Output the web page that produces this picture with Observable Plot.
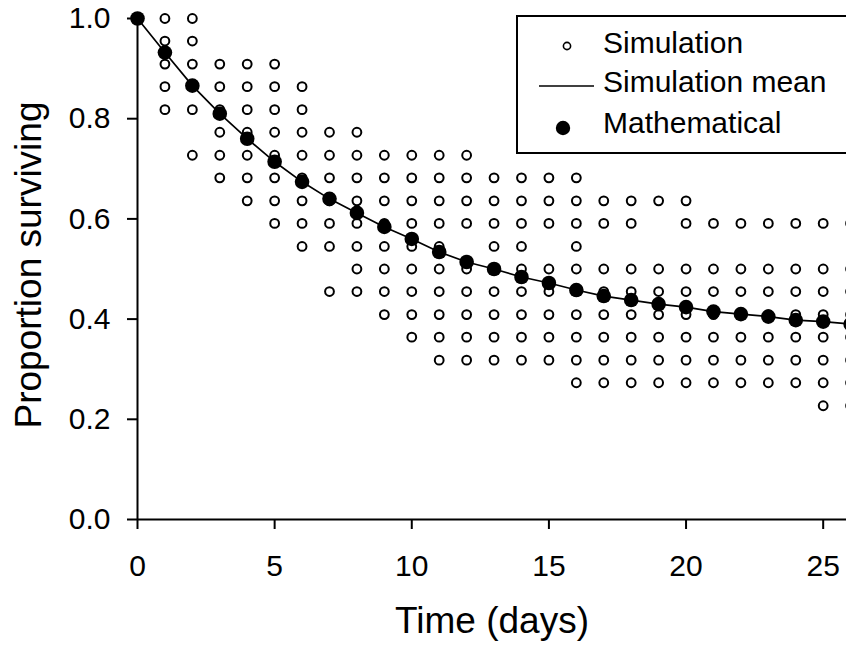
<!DOCTYPE html>
<html><head><meta charset="utf-8">
<script src="https://cdn.jsdelivr.net/npm/d3@7"></script>
<script src="https://cdn.jsdelivr.net/npm/@observablehq/plot@0.6"></script>
<style>
html,body{margin:0;padding:0;background:#fff;overflow:hidden}
#wrap{position:relative;width:846px;height:648px;overflow:hidden;font-family:"Liberation Sans",Arial,sans-serif}
</style></head><body><div id="wrap"></div>
<script>
const days = [0,1,2,3,4,5,6,7,8,9,10,11,12,13,14,15,16,17,18,19,20,21,22,23,24,25,26];
const mathematical = [1.000,0.932,0.866,0.810,0.760,0.714,0.674,0.640,0.612,0.584,0.560,0.534,0.514,0.500,0.484,0.472,0.458,0.446,0.438,0.430,0.424,0.415,0.410,0.405,0.398,0.395,0.390];
const simulationMean = [1.000,0.932,0.866,0.810,0.760,0.714,0.674,0.640,0.612,0.584,0.560,0.534,0.514,0.500,0.484,0.472,0.458,0.446,0.438,0.430,0.424,0.415,0.410,0.405,0.398,0.395,0.390];
const simulationRuns = [
  [1.000],
  [1.000,0.955,0.909,0.864,0.818],
  [1.000,0.955,0.909,0.864,0.818,0.727],
  [0.909,0.864,0.818,0.773,0.727,0.682],
  [0.909,0.864,0.818,0.773,0.727,0.682,0.636],
  [0.909,0.864,0.818,0.773,0.727,0.682,0.636,0.591],
  [0.864,0.818,0.773,0.727,0.682,0.636,0.591,0.545],
  [0.773,0.727,0.682,0.636,0.591,0.545,0.455],
  [0.773,0.727,0.682,0.636,0.591,0.545,0.500,0.455],
  [0.727,0.682,0.636,0.591,0.545,0.500,0.455,0.409],
  [0.727,0.682,0.636,0.591,0.545,0.500,0.455,0.409,0.364],
  [0.727,0.682,0.636,0.591,0.545,0.500,0.455,0.409,0.364,0.318],
  [0.727,0.682,0.636,0.591,0.500,0.455,0.409,0.364,0.318],
  [0.682,0.636,0.591,0.545,0.500,0.455,0.409,0.364,0.318],
  [0.682,0.636,0.591,0.545,0.500,0.455,0.409,0.364,0.318],
  [0.682,0.636,0.591,0.500,0.455,0.409,0.364,0.318],
  [0.682,0.636,0.591,0.545,0.500,0.455,0.409,0.364,0.318,0.273],
  [0.636,0.591,0.500,0.455,0.409,0.364,0.318,0.273],
  [0.636,0.591,0.500,0.455,0.409,0.364,0.318,0.273],
  [0.636,0.500,0.455,0.409,0.364,0.318,0.273],
  [0.636,0.591,0.500,0.455,0.409,0.364,0.318,0.273],
  [0.591,0.500,0.455,0.409,0.364,0.318,0.273],
  [0.591,0.500,0.455,0.409,0.364,0.318,0.273],
  [0.591,0.500,0.455,0.409,0.364,0.318,0.273],
  [0.591,0.500,0.455,0.409,0.364,0.318,0.273],
  [0.591,0.500,0.455,0.409,0.364,0.318,0.273,0.227],
  [0.591,0.500,0.455,0.409,0.364,0.318,0.273,0.227]
];
const xTicks = [0,5,10,15,20,25];
const yTicks = [0,0.2,0.4,0.6,0.8,1.0];
const xTitle = "Time (days)";
const yTitle = "Proportion surviving";
const legendLabels = ["Simulation","Simulation mean","Mathematical"];

const simPoints = days.flatMap((d,i) => simulationRuns[i].map(p => ({day:d, p})));
const mathPoints = days.map((d,i) => ({day:d, p:mathematical[i]}));
const meanPoints = days.map((d,i) => ({day:d, p:simulationMean[i]}));

const font = '"Liberation Sans", Arial, sans-serif';
const chart = Plot.plot({
  width: 846, height: 648,
  marginLeft: 137, marginRight: 0, marginTop: 18, marginBottom: 129,
  style: {fontFamily: font, background: "white", color: "black"},
  x: {domain: [0, 25.85]},
  y: {domain: [0, 1]},
  marks: [
    Plot.ruleX([0], {strokeWidth: 2}),
    Plot.ruleY([0], {strokeWidth: 2}),
    Plot.axisX(xTicks, {tickSize: 10, tickPadding: 25, fontSize: 30, strokeWidth: 2, label: null}),
    Plot.axisY(yTicks, {tickSize: 10, tickPadding: 17, fontSize: 30, strokeWidth: 2, label: null, tickFormat: d3.format(".1f")}),
    Plot.text([xTitle], {text: d => d, frameAnchor: "bottom", textAnchor: "middle", lineAnchor: "middle", dy: 102, fontSize: 37}),
    Plot.text([yTitle], {text: d => d, frameAnchor: "left", textAnchor: "middle", lineAnchor: "middle", rotate: -90, dx: -108, dy: -4, fontSize: 37}),
    Plot.dot(simPoints, {x: "day", y: "p", r: 4.4, stroke: "black", strokeWidth: 2, fill: "none"}),
    Plot.line(meanPoints, {x: "day", y: "p", stroke: "black", strokeWidth: 1.7}),
    Plot.dot(mathPoints, {x: "day", y: "p", r: 7.3, fill: "black", stroke: "none"})
  ]
});
document.getElementById("wrap").appendChild(chart);

// Legend overlay (inside the plot area, top right)
const leg = d3.select("#wrap").append("svg")
  .attr("width", 846).attr("height", 648)
  .style("position", "absolute").style("left", "0px").style("top", "0px")
  .style("font-family", font);
leg.append("rect").attr("x", 517).attr("y", 16).attr("width", 340).attr("height", 137)
  .attr("fill", "white").attr("stroke", "black").attr("stroke-width", 2);
leg.append("circle").attr("cx", 567).attr("cy", 46).attr("r", 3.6)
  .attr("fill", "none").attr("stroke", "black").attr("stroke-width", 1.6);
leg.append("line").attr("x1", 539).attr("x2", 594).attr("y1", 86).attr("y2", 86)
  .attr("stroke", "black").attr("stroke-width", 1.6);
leg.append("circle").attr("cx", 563).attr("cy", 128).attr("r", 7.2).attr("fill", "black");
const baselines = [53, 92, 133];
legendLabels.forEach((t, i) => {
  leg.append("text").attr("x", 603).attr("y", baselines[i]).attr("font-size", 30)
    .attr("fill", "black").text(t);
});
</script>
</body></html>
